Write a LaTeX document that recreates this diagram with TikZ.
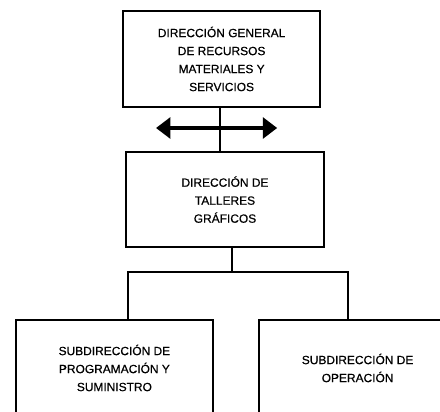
\documentclass[tikz,border=0pt]{standalone}
\usepackage{fontspec}
\setmainfont{Liberation Sans}
\newfontfamily\rotulo{Liberation Sans}[FakeBold=0.5]
\usetikzlibrary{arrows.meta}
\usetikzlibrary{positioning}

\begin{document}
\begin{tikzpicture}[
        unidad/.style={draw,line width=1.3pt,minimum width=4.93cm,minimum height=2.4cm,
            align=center,font=\rotulo\fontsize{8.5}{12.8}\selectfont,inner sep=0pt},
        enlace/.style={line width=1.3pt}
    ]
            \useasboundingbox (0,0) rectangle (11,-10.275);

            \node[unidad] (dg) at (5.54,-1.475) {DIRECCIÓN GENERAL\\DE RECURSOS\\MATERIALES Y\\SERVICIOS};
            \node[unidad,minimum height=2.375cm] (dtg) at (5.625,-4.99) {DIRECCIÓN DE\\TALLERES\\GRÁFICOS};
            \node[unidad] (sps) at (2.86,-9.2) {SUBDIRECCIÓN DE\\PROGRAMACIÓN Y\\SUMINISTRO};
            \node[unidad] (so) at (8.94,-9.2) {SUBDIRECCIÓN DE\\OPERACIÓN};

            \coordinate (R) at (5.8,-6.8);
            \coordinate (RL) at (3.2,-6.8);
            \coordinate (RR) at (8.7,-6.8);
            \coordinate (FL) at (3.9,-3.2);
            \coordinate (FR) at (6.93,-3.2);

            % enlaces
            \draw[enlace] (dg.south -| 5.5,0) -- (5.5,0 |- dtg.north);
            \draw[line width=3.5pt,{Triangle[length=0.36cm,width=0.52cm]}-{Triangle[length=0.36cm,width=0.52cm]}] (FL) -- (FR);
            \draw[enlace] (R |- dtg.south) -- (R);
            \draw[enlace] (RL |- sps.north) -- (RL) -- (RR) -- (RR |- so.north);
        \end{tikzpicture}
\end{document}
